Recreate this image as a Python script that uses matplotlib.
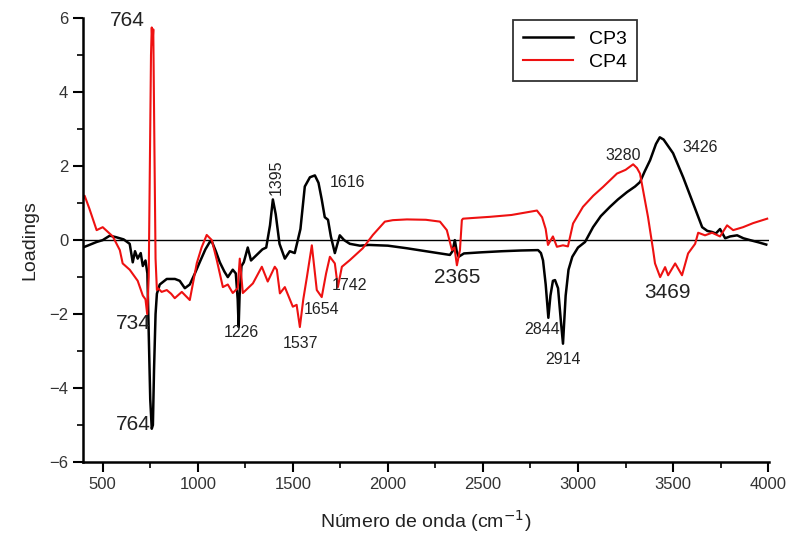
import matplotlib
matplotlib.use("Agg")
import matplotlib.pyplot as plt
from matplotlib.ticker import MultipleLocator

plt.rcParams['font.family'] = ['Liberation Sans', 'DejaVu Sans']

# CP3 (black) loadings
cp3_x = [395, 420, 468, 500, 537, 570, 610, 642, 658, 670, 684, 700, 711, 725, 735, 742,
         750, 758, 764, 770, 778, 785, 800, 837, 880, 905, 932, 958, 985, 1010, 1040, 1063,
         1075, 1095, 1116, 1140, 1158, 1184, 1200, 1210, 1215, 1220, 1230, 1242, 1263, 1280,
         1300, 1320, 1340, 1360, 1380, 1395, 1410, 1430, 1458, 1484, 1510, 1540, 1563, 1590,
         1616, 1635, 1652, 1668, 1685, 1700, 1721, 1747, 1770, 1800, 1853, 1900, 2000, 2100,
         2200, 2326, 2340, 2352, 2362, 2372, 2400, 2490, 2600, 2700, 2790, 2805, 2816, 2830,
         2844, 2855, 2868, 2879, 2895, 2910, 2921, 2935, 2950, 2970, 3000, 3037, 3079, 3120,
         3168, 3210, 3258, 3300, 3326, 3350, 3379, 3410, 3430, 3450, 3500, 3553, 3605, 3653,
         3680, 3705, 3725, 3747, 3774, 3800, 3837, 3870, 3905, 3950, 3990]
cp3_y = [-0.2, -0.15, -0.05, 0.0, 0.12, 0.08, 0.02, -0.1, -0.6, -0.3, -0.5, -0.35, -0.7, -0.55,
         -0.9, -2.5, -4.3, -5.1, -5.0, -3.5, -2.0, -1.45, -1.2, -1.05, -1.05, -1.1, -1.3, -1.2,
         -0.9, -0.6, -0.25, -0.05, -0.05, -0.3, -0.6, -0.85, -1.0, -0.8, -0.9, -1.6, -2.35,
         -1.5, -0.7, -0.6, -0.2, -0.55, -0.45, -0.35, -0.25, -0.2, 0.4, 1.1, 0.7, -0.1, -0.5,
         -0.3, -0.35, 0.3, 1.45, 1.7, 1.75, 1.55, 1.1, 0.62, 0.55, 0.1, -0.35, 0.13, 0.0,
         -0.1, -0.15, -0.13, -0.15, -0.22, -0.3, -0.4, -0.3, 0.0, -0.3, -0.45, -0.36, -0.33,
         -0.3, -0.28, -0.27, -0.35, -0.55, -1.2, -2.1, -1.5, -1.1, -1.08, -1.3, -2.2, -2.8,
         -1.5, -0.8, -0.45, -0.2, -0.05, 0.35, 0.65, 0.9, 1.1, 1.3, 1.45, 1.57, 1.85, 2.16,
         2.6, 2.78, 2.72, 2.35, 1.7, 1.0, 0.35, 0.25, 0.22, 0.18, 0.3, 0.05, 0.1, 0.13, 0.05,
         0.0, -0.06, -0.12]

# CP4 (red) loadings
cp4_x = [395, 405, 430, 468, 500, 553, 590, 605, 642, 684, 711, 725, 734, 742, 748, 754,
         758, 762, 766, 772, 778, 785, 790, 810, 837, 860, 879, 916, 958, 995, 1020, 1047,
         1074, 1100, 1132, 1158, 1184, 1210, 1221, 1237, 1290, 1337, 1368, 1405, 1416, 1432,
         1458, 1500, 1520, 1537, 1555, 1574, 1600, 1626, 1652, 1675, 1695, 1721, 1737, 1758,
         1800, 1868, 1921, 1984, 2026, 2100, 2200, 2274, 2310, 2337, 2350, 2363, 2379, 2389,
         2395, 2450, 2537, 2650, 2784, 2811, 2830, 2842, 2868, 2889, 2921, 2947, 2974, 3026,
         3080, 3132, 3205, 3250, 3290, 3310, 3326, 3368, 3395, 3405, 3432, 3458, 3474, 3511,
         3547, 3579, 3616, 3632, 3668, 3705, 3747, 3784, 3816, 3868, 3921, 3995]
cp4_y = [1.08, 1.2, 0.85, 0.27, 0.35, 0.1, -0.27, -0.63, -0.8, -1.1, -1.5, -1.6, -2.0, -1.0,
         2.0, 5.0, 5.75, 5.3, 5.7, 2.5, -0.5, -1.35, -1.3, -1.4, -1.35, -1.45, -1.57, -1.4,
         -1.62, -0.62, -0.2, 0.14, 0.0, -0.54, -1.27, -1.2, -1.43, -1.3, -0.5, -1.43, -1.17,
         -0.72, -1.12, -0.72, -0.8, -1.44, -1.27, -1.8, -1.75, -2.35, -1.6, -1.0, -0.14, -1.35,
         -1.54, -0.9, -0.45, -0.63, -1.27, -0.72, -0.54, -0.22, 0.14, 0.5, 0.54, 0.56, 0.55,
         0.5, 0.27, -0.27, -0.2, -0.68, -0.27, 0.54, 0.58, 0.6, 0.63, 0.68, 0.8, 0.62, 0.3,
         -0.13, 0.1, -0.18, -0.14, -0.17, 0.45, 0.9, 1.2, 1.44, 1.8, 1.9, 2.05, 1.95, 1.8,
         0.63, -0.27, -0.63, -1.0, -0.73, -0.95, -0.63, -0.95, -0.36, -0.1, 0.2, 0.13, 0.2,
         0.1, 0.4, 0.27, 0.35, 0.46, 0.58]

x_ticks = [500, 1000, 1500, 2000, 2500, 3000, 3500, 4000]
y_ticks = [-6, -4, -2, 0, 2, 4, 6]

fig = plt.figure(figsize=(7.88, 5.36), dpi=100)
ax = fig.add_axes([0.105, 0.138, 0.871, 0.828])

ax.plot(cp3_x, cp3_y, color='black', lw=1.8, label='CP3')
ax.plot(cp4_x, cp4_y, color='#ee1111', lw=1.5, label='CP4')
ax.axhline(0, color='black', lw=1.0, zorder=0)

ax.set_xlim(395, 4005)
ax.set_ylim(-6, 6)
ax.set_xticks(x_ticks)
ax.set_yticks(y_ticks)
ax.xaxis.set_minor_locator(MultipleLocator(250))
ax.yaxis.set_minor_locator(MultipleLocator(1))
ax.tick_params(which='major', direction='out', length=7, width=1.5, labelsize=12,
               labelcolor='#333333')
ax.tick_params(which='minor', direction='out', length=4, width=1.2)
for s in ['top', 'right']:
    ax.spines[s].set_visible(False)
for s in ['left', 'bottom']:
    ax.spines[s].set_linewidth(1.8)

ax.set_xlabel('Número de onda (cm$^{-1}$)', fontsize=14, color='#222222', labelpad=12)
ax.set_ylabel('Loadings', fontsize=14, color='#222222', labelpad=8)

leg = ax.legend(loc='upper left', bbox_to_anchor=(0.627, 0.995), fontsize=14,
                frameon=True, fancybox=False, edgecolor='black', handlelength=2.6,
                borderpad=0.5, labelspacing=0.3, borderaxespad=0)
leg.get_frame().set_linewidth(1.3)

big = dict(fontsize=15, color='#222222', ha='center', va='center')
small = dict(fontsize=11.5, color='#222222', ha='center', va='center')
ax.text(630, 5.95, '764', **big)
ax.text(660, -2.25, '734', **big)
ax.text(660, -4.98, '764', **big)
ax.text(1230, -2.5, '1226', **small)
ax.text(1540, -2.8, '1537', **small)
ax.text(1650, -1.87, '1654', **small)
ax.text(1800, -1.22, '1742', **small)
ax.text(1415, 1.7, '1395', rotation=90, **small)
ax.text(1790, 1.57, '1616', **small)
ax.text(2365, -1.0, '2365', **big)
ax.text(2810, -2.43, '2844', **small)
ax.text(2920, -3.22, '2914', **small)
ax.text(3469, -1.41, '3469', **big)
ax.text(3240, 2.3, '3280', **small)
ax.text(3645, 2.5, '3426', **small)

fig.savefig('out.png', dpi=100)
